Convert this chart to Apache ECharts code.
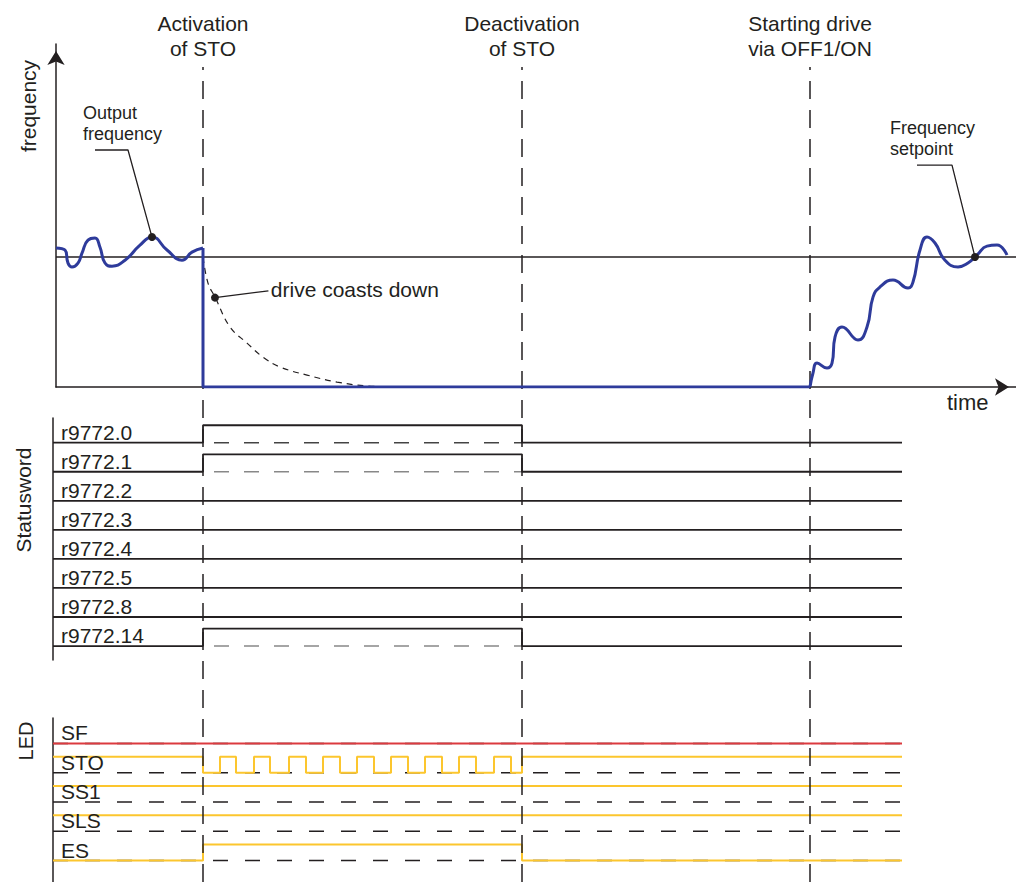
<!DOCTYPE html>
<html><head><meta charset="utf-8">
<script src="https://cdn.jsdelivr.net/npm/echarts@6/dist/echarts.min.js"></script>
<style>html,body{margin:0;padding:0;background:#fff}#c{width:1016px;height:882px}</style>
</head><body><div id="c"></div>
<script>
// ================= DATA =================
// time axis in arbitrary units (0 .. 241)
const eventTimes  = [37.75, 117.5, 189.5];
const eventLabels = ['Activation\nof STO', 'Deactivation\nof STO', 'Starting drive\nvia OFF1/ON'];

const freqSetpoint = 50;
// output frequency [time, frequency]
const outFreqBefore = [[1,53.5],[3.25,52.7],[4,47.7],[5,46.2],[6.5,47.7],[7.5,51.5],[9,56.5],[10.75,57.3],[12,53.8],[13.25,47.7],[15,46.5],[18.25,48.8],[22,54.6],[25,57.7],[28.75,52.7],[32.5,48.8],[35,51.9],[37.75,53.5]];
const outFreqStopped = [[37.75,53.5],[37.75,0],[189.5,0]];
const outFreqAfter = [[189.5,0],[190.25,5.4],[191.25,9.2],[193.75,7.3],[195,9.2],[195.75,19.2],[197.5,23.1],[201.5,18.1],[203.75,23.1],[205.25,34.6],[207,38.5],[210.25,41.2],[214,38.1],[215.25,40.4],[217,52.7],[218.75,57.7],[220.75,55.4],[223.25,48.8],[226.5,46.2],[229,47.7],[231.25,50.8],[233.75,54.2],[236.25,54.6],[238.75,50.8]];
// coasting (dashed) speed
const coastDown = [[37.75,50],[39,40],[40.75,34.6],[44.5,23.1],[48.75,16.9],[52.75,11.5],[57,7.7],[63.75,4.6],[71.25,1.9],[78.75,0.4],[86.25,0]];

// status word bits: change points [time, level]
const statusBits = ['r9772.0','r9772.1','r9772.2','r9772.3','r9772.4','r9772.5','r9772.8','r9772.14'];
const statusLevels = [
  [[0.25,0],[37.75,1],[117.5,0]],
  [[0.25,0],[37.75,1],[117.5,0]],
  [[0.25,0]],
  [[0.25,0]],
  [[0.25,0]],
  [[0.25,0]],
  [[0.25,0]],
  [[0.25,0],[37.75,1],[117.5,0]]
];
const statusRefDashed = [true, true, false, false, false, false, false, true];
const signalEnd = 212.5;

// LEDs: change points [time, level]
const ledNames = ['SF','STO','SS1','SLS','ES'];
const ledLevels = [
  [[0.25,0]],
  [[0.25,1],[37.75,0],[42,1],[46,0],[50.5,1],[54.5,0],[59.25,1],[63.5,0],[67.75,1],[72,0],[76.25,1],[80.5,0],[84.75,1],[89,0],[93.25,1],[97.5,0],[101.75,1],[106,0],[110.5,1],[114.75,0],[117.5,1]],
  [[0.25,1]],
  [[0.25,1]],
  [[0.25,0],[37.75,1],[117.5,0]]
];

// ================= STYLE / LAYOUT =================
const FONT = '"Liberation Sans", Arial, Helvetica, sans-serif';
const INK = '#231f20';
const BLUE = '#2e3b9b';
const RED = '#dc3a3f';
const YELLOW = '#fcc62e';
const ledColors = [RED, YELLOW, YELLOW, YELLOW, YELLOW];
const STATUS_HIGH = 0.6, LED_HIGH = 0.55;
const annotations = [
  {text:'Output\nfrequency', anchor:[7.75,109.5], leader:[[25,57.7],[19,91.2],[10.75,91.2]], size:18, lh:21, vAlign:'top'},
  {text:'drive coasts down', anchor:[54.7,37.6], leader:[[40.75,34.4],[54.1,37.0]], size:21, lh:24, vAlign:'middle'},
  {text:'Frequency\nsetpoint', anchor:[209.5,103.6], leader:[[230.75,50],[225,85.4],[216.25,85.4]], size:18, lh:21, vAlign:'top'}
];

function stepData(levels, row, hi) {
  const d = levels.map(([t, l]) => [t, row - hi * l]);
  const last = levels[levels.length - 1];
  d.push([signalEnd, row - hi * last[1]]);
  return d;
}
function highIntervals(levels) {
  const out = [];
  for (let i = 0; i < levels.length; i++) {
    if (levels[i][1] === 1) {
      const end = i + 1 < levels.length ? levels[i + 1][0] : signalEnd;
      out.push([levels[i][0], end]);
    }
  }
  return out;
}
const hidden = {show:false};
function xAx(grid, min, max) {
  return {type:'value', gridIndex:grid, min, max, axisLine:hidden, axisTick:hidden, axisLabel:hidden, splitLine:hidden};
}
const solidItem = {color:INK, opacity:1};

const series = [];
// event lines (overlay grid 0)
series.push({
  type:'line', xAxisIndex:0, yAxisIndex:0, data:[[0,0]], showSymbol:false, lineStyle:{width:0}, silent:true, z:1,
  markLine:{
    silent:true, symbol:['none','none'], animation:false,
    lineStyle:{color:INK, width:1.5, type:[18,11]},
    label:{show:true, position:'end', distance:6, formatter:'{b}', fontSize:21, lineHeight:25, color:INK, fontFamily:FONT, align:'center'},
    data: eventTimes.map((t, i) => ({xAxis:t, name:eventLabels[i]}))
  }
});
// frequency grid 1
series.push({type:'line', xAxisIndex:1, yAxisIndex:1, data:[[1,freqSetpoint],[241,freqSetpoint]], showSymbol:false, lineStyle:{color:INK, width:1.5}, z:3});
series.push({type:'line', xAxisIndex:1, yAxisIndex:1, data:coastDown, smooth:0.4, showSymbol:false, lineStyle:{color:INK, width:1.2, type:[6,5]}, z:3});
series.push({type:'line', xAxisIndex:1, yAxisIndex:1, data:outFreqBefore, smooth:0.5, showSymbol:false, lineStyle:{color:BLUE, width:3}, z:5});
series.push({type:'line', xAxisIndex:1, yAxisIndex:1, data:outFreqStopped, showSymbol:false, lineStyle:{color:BLUE, width:3}, z:5});
series.push({type:'line', xAxisIndex:1, yAxisIndex:1, data:outFreqAfter, smooth:0.5, showSymbol:false, lineStyle:{color:BLUE, width:3}, z:5});
annotations.forEach(a => {
  series.push({type:'line', xAxisIndex:1, yAxisIndex:1, data:a.leader, showSymbol:false, lineStyle:{color:INK, width:1.3}, z:6});
});
series.push({type:'scatter', xAxisIndex:1, yAxisIndex:1, data:annotations.map(a => a.leader[0]), symbolSize:8, itemStyle:solidItem, z:7});
series.push({type:'scatter', xAxisIndex:1, yAxisIndex:1, symbolSize:0, clip:false, z:7, itemStyle:solidItem,
  data: annotations.map(a => ({value:a.anchor, name:a.text,
    label:{show:true, position:[0,0], formatter:'{b}', align:'left', verticalAlign:a.vAlign, fontSize:a.size, lineHeight:a.lh, color:INK, opacity:1, fontFamily:FONT}}))
});
// status word grid 2
statusBits.forEach((name, i) => {
  if (statusRefDashed[i]) {
    highIntervals(statusLevels[i]).forEach(([a, b]) => {
      series.push({type:'line', xAxisIndex:2, yAxisIndex:2, data:[[a, i],[b, i]], showSymbol:false,
        lineStyle:{color: i === 0 ? '#444' : '#888', width:1.5, type:[15,15], dashOffset:19}, z:2});
    });
  }
  series.push({type:'line', xAxisIndex:2, yAxisIndex:2, step:'end', data:stepData(statusLevels[i], i, STATUS_HIGH),
    showSymbol:false, lineStyle:{color:INK, width:1.8}, z:3});
});
series.push({type:'scatter', xAxisIndex:2, yAxisIndex:2, symbolSize:0, clip:false, z:4, itemStyle:solidItem,
  data: statusBits.map((n, i) => ({value:[2.25, i], name:n})),
  label:{show:true, position:[0,0], formatter:'{b}', align:'left', verticalAlign:'bottom', fontSize:21, lineHeight:21, color:INK, opacity:1, fontFamily:FONT}
});
// LED grid 3
ledNames.forEach((name, i) => {
  series.push({type:'line', xAxisIndex:3, yAxisIndex:3, data:[[0.25, i],[signalEnd, i]], showSymbol:false,
    lineStyle:{color:INK, width:1.5, type:[15,17]}, z:2});
  series.push({type:'line', xAxisIndex:3, yAxisIndex:3, step:'end', data:stepData(ledLevels[i], i, LED_HIGH),
    showSymbol:false, lineStyle:{color:ledColors[i], width:2}, z:3});
});
series.push({type:'scatter', xAxisIndex:3, yAxisIndex:3, symbolSize:0, clip:false, z:4, itemStyle:solidItem,
  data: ledNames.map((n, i) => ({value:[2.25, i], name:n})),
  label:{show:true, position:[0,0], formatter:'{b}', align:'left', verticalAlign:'bottom', fontSize:21, lineHeight:21, color:INK, opacity:1, fontFamily:FONT}
});

const axisLineStyle = {color:INK, width:1.5};
const option = {
  animation:false,
  backgroundColor:'#fff',
  grid:[
    {left:52, right:0, top:67, bottom:0},
    {left:56, right:0, top:44, height:343},
    {left:53, right:0, top:418, bottom:222},
    {left:53, right:0, top:718, bottom:0}
  ],
  xAxis:[
    xAx(0, 0, 241),
    Object.assign(xAx(1, 1, 241), {axisLine:{show:true, onZero:false, lineStyle:axisLineStyle, symbol:['none','arrow'], symbolSize:[13,14], symbolOffset:[0,-7]}}),
    xAx(2, 0.25, 241),
    xAx(3, 0.25, 241)
  ],
  yAxis:[
    {type:'value', gridIndex:0, min:0, max:1, axisLine:hidden, axisTick:hidden, axisLabel:hidden, splitLine:hidden},
    {type:'value', gridIndex:1, min:0, max:132, axisLine:{show:true, onZero:false, lineStyle:axisLineStyle, symbol:['none','arrow'], symbolSize:[13,14], symbolOffset:[0,-7]}, axisTick:hidden, axisLabel:hidden, splitLine:hidden},
    {type:'value', gridIndex:2, inverse:true, min:-0.85, max:7.48, axisLine:{show:true, onZero:false, lineStyle:axisLineStyle}, axisTick:hidden, axisLabel:hidden, splitLine:hidden},
    {type:'value', gridIndex:3, inverse:true, min:-0.87, max:4.73, axisLine:{show:true, onZero:false, lineStyle:axisLineStyle}, axisTick:hidden, axisLabel:hidden, splitLine:hidden}
  ],
  graphic:[
    {type:'text', x:28, y:106, rotation:Math.PI/2, style:{text:'frequency', font:'21px ' + FONT, fill:INK, align:'center', verticalAlign:'middle', textAlign:'center', textVerticalAlign:'middle'}},
    {type:'text', x:23, y:500, rotation:Math.PI/2, style:{text:'Statusword', font:'21px ' + FONT, fill:INK, align:'center', verticalAlign:'middle', textAlign:'center', textVerticalAlign:'middle'}},
    {type:'text', x:26, y:741, rotation:Math.PI/2, style:{text:'LED', font:'20px ' + FONT, fill:INK, align:'center', verticalAlign:'middle', textAlign:'center', textVerticalAlign:'middle'}},
    {type:'text', x:947, y:402, style:{text:'time', font:'22px ' + FONT, fill:INK, align:'left', verticalAlign:'middle', textAlign:'left', textVerticalAlign:'middle'}}
  ],
  series
};
const chart = echarts.init(document.getElementById('c'), null, {renderer:'svg'});
chart.setOption(option);
</script>
</body></html>
